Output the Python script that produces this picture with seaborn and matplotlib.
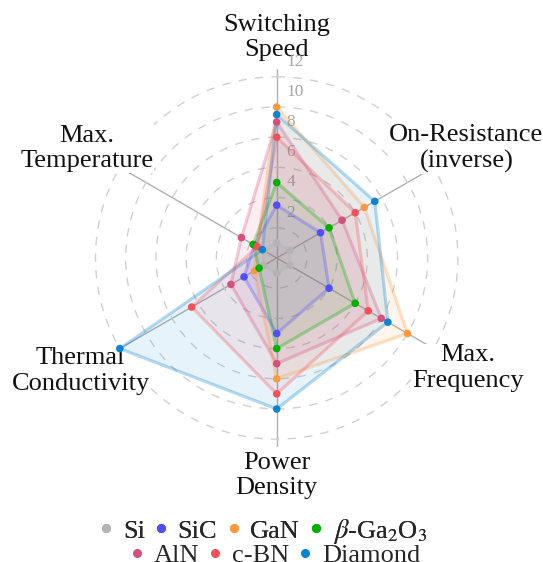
import numpy as np
import pandas as pd
import matplotlib
matplotlib.use("Agg")
import matplotlib.pyplot as plt
import matplotlib.transforms as mtransforms
from matplotlib.lines import Line2D
import seaborn as sns

# ---- data ----
categories = ["Switching\nSpeed", "On-Resistance\n(inverse)", "Max.\nFrequency",
              "Power\nDensity", "Thermal\nConductivity", "Max.\nTemperature"]
materials = ["Si", "SiC", "GaN", r"$\beta$-Ga$_2$O$_3$", "AlN", "c-BN", "Diamond"]
si_vals = [1, 1, 1, 1, 1, 1]
sic_vals = [3.5, 3.35, 4, 5, 2.5, 1.7]
gan_vals = [10, 6.7, 10, 8, 1.7, 1.5]
ga2o3_vals = [5, 4, 6, 6, 1.35, 1.8]
aln_vals = [9, 5, 8, 7, 3.5, 2.7]
cbn_vals = [8, 6, 7, 9, 6.5, 1.5]
diamond_vals = [9.5, 7.5, 8.5, 10, 12, 1.1]
colors = ["#b3b3b3", "#4f4fff", "#ff9a3c", "#00b000", "#d6507e", "#f5505a", "#0a84d0"]
r_ticks = [2, 4, 6, 8, 10, 12]

values = [si_vals, sic_vals, gan_vals, ga2o3_vals, aln_vals, cbn_vals, diamond_vals]

# layout (not data): radial distance of each category label
label_r = [14.6, 14.5, 14.6, 14.4, 15.0, 14.5]

sns.set_style("white")
plt.rcParams["font.family"] = ["Liberation Serif", "DejaVu Serif"]
plt.rcParams["mathtext.fontset"] = "stix"

W, H = 543, 562
fig = plt.figure(figsize=(W / 100, H / 100), dpi=100)
ax = fig.add_axes([0.162, 0.2051, 0.6952, 0.6717], projection="polar")
ax.set_theta_zero_location("N")
ax.set_theta_direction(-1)

n = len(categories)
angles = np.arange(n) * 2 * np.pi / n

rows = []
for mat, vals in zip(materials, values):
    for i in range(n + 1):
        rows.append({"material": mat, "theta": angles[i % n], "r": vals[i % n], "order": i})
df = pd.DataFrame(rows)
pal = dict(zip(materials, colors))

# fills
for mat, vals, c in zip(materials, values, colors):
    ax.fill(np.append(angles, angles[0]), vals + vals[:1], color=c, alpha=0.095, lw=0, zorder=2)

# outlines
sns.lineplot(data=df, x="theta", y="r", hue="material", units="material", estimator=None,
             sort=False, palette=pal, alpha=0.3, lw=2.3, legend=False, ax=ax, zorder=3)

# vertices
pts = df[df["order"] < n]
sns.scatterplot(data=pts, x="theta", y="r", hue="material", palette=pal, s=30,
                linewidth=0, legend=False, ax=ax, zorder=5)

ax.set_xlabel("")
ax.set_ylabel("")
ax.set_ylim(0, 12.5)
ax.set_xticks(angles)
ax.set_xticklabels([])
ax.set_yticks(r_ticks)
ax.set_yticklabels([])
ax.tick_params(length=0)
ax.spines["polar"].set_visible(False)
ax.xaxis.grid(True, color="#b0b0b0", lw=1.0, ls="-")
ax.yaxis.grid(True, color="#d0d0d0", lw=1.0, ls=(0, (6, 6)))
ax.set_axisbelow(True)

# category labels (white box sits beneath the polygons, above the spokes)
for ang, lab, rr in zip(angles, categories, label_r):
    ax.text(ang, rr, lab, ha="center", va="center", fontsize=19, color="#111111",
            linespacing=1.22, bbox=dict(facecolor="white", edgecolor="none", pad=0.5),
            zorder=1, clip_on=False)

# radial tick labels
off = mtransforms.ScaledTranslation(10 / 100, 0, fig.dpi_scale_trans)
for v in r_ticks:
    ax.text(0, v + 1, str(v), ha="left", va="center", fontsize=12.5, color="#a6a6a6",
            transform=ax.transData + off, zorder=1.5, clip_on=False)

# legend (two centred rows)
handles = [Line2D([], [], marker="o", ls="none", color=c, markersize=5.5) for c in colors]
common = dict(loc="center", frameon=False, fontsize=19, handlelength=0.4, handletextpad=0.42,
              columnspacing=0.42, borderpad=0, borderaxespad=0)
leg1 = fig.legend(handles[:4], materials[:4], bbox_to_anchor=(264 / W, 1 - 531 / H), ncol=4, **common)
fig.add_artist(leg1)
leg2 = fig.legend(handles[4:], materials[4:], bbox_to_anchor=(276 / W, 1 - 555 / H), ncol=3, **common)

fig.savefig("out.png", dpi=100, facecolor="white")
